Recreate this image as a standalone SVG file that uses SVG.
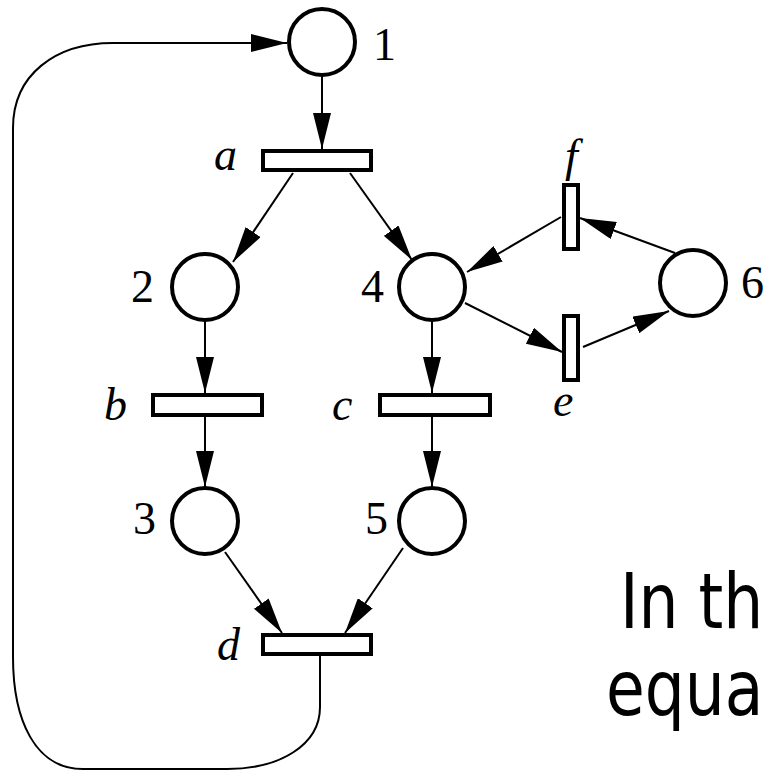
<svg xmlns="http://www.w3.org/2000/svg" width="764" height="772" viewBox="0 0 764 772">
<style>
.place{fill:#fff;stroke:#000;stroke-width:4}
.trans{fill:#fff;stroke:#000;stroke-width:4}
.arc{fill:none;stroke:#000;stroke-width:2}
.num{font-family:"Liberation Serif","Times New Roman",serif;font-size:46px;fill:#000}
.lab{font-family:"Liberation Serif","Times New Roman",serif;font-size:46px;font-style:italic;fill:#000}
.big{font-family:"DejaVu Sans",Verdana,sans-serif;font-size:76px;fill:#000}
</style>
<defs>
<marker id="ah" markerUnits="userSpaceOnUse" markerWidth="36" markerHeight="18" refX="36" refY="9" orient="auto" viewBox="0 0 36 18">
<path d="M0,0 L36,9 L0,18 Z" fill="#000"/>
</marker>
</defs>
<rect width="764" height="772" fill="#fff"/>
<g id="connectors">
<path class="arc" d="M322,76 L322,149" marker-end="url(#ah)"/>
<path class="arc" d="M293,173 L233,262" marker-end="url(#ah)"/>
<path class="arc" d="M350,173 L412,260" marker-end="url(#ah)"/>
<path class="arc" d="M205,320 L205,393" marker-end="url(#ah)"/>
<path class="arc" d="M432,320 L432,393" marker-end="url(#ah)"/>
<path class="arc" d="M205,417 L205,487" marker-end="url(#ah)"/>
<path class="arc" d="M432,417 L432,487" marker-end="url(#ah)"/>
<path class="arc" d="M225,552 L282,633" marker-end="url(#ah)"/>
<path class="arc" d="M403,548 L345,633" marker-end="url(#ah)"/>
<path class="arc" d="M465,303 L562,352" marker-end="url(#ah)"/>
<path class="arc" d="M583,347 L669,311" marker-end="url(#ah)"/>
<path class="arc" d="M675,253 L580,218" marker-end="url(#ah)"/>
<path class="arc" d="M561,217 L467,272" marker-end="url(#ah)"/>
<path class="arc" d="M320,656 L320,707 C320,745 280,769 227,769 L83,769 C35,769 13,720 13,657 L13,128 C13,75 55,43 113,43 L287,43" marker-end="url(#ah)"/>
</g>
<g id="p1"><circle class="place" cx="322" cy="42" r="33"/><text class="num" x="373" y="60">1</text></g>
<g id="p2"><circle class="place" cx="205" cy="287" r="33"/><text class="num" x="131" y="302">2</text></g>
<g id="p3"><circle class="place" cx="205" cy="521" r="33"/><text class="num" x="133" y="534">3</text></g>
<g id="p4"><circle class="place" cx="432" cy="287" r="33"/><text class="num" x="361" y="302">4</text></g>
<g id="p5"><circle class="place" cx="432" cy="521" r="33"/><text class="num" x="365" y="534">5</text></g>
<g id="p6"><circle class="place" cx="693" cy="283" r="33"/><text class="num" x="741" y="298">6</text></g>
<g id="ta"><rect class="trans" x="263" y="151" width="108" height="19"/><text class="lab" x="214" y="170">a</text></g>
<g id="tb"><rect class="trans" x="153" y="395" width="109" height="20"/><text class="lab" x="104" y="420">b</text></g>
<g id="tc"><rect class="trans" x="380" y="395" width="110" height="20"/><text class="lab" x="332" y="420">c</text></g>
<g id="td"><rect class="trans" x="263" y="635" width="108" height="19"/><text class="lab" x="217" y="660">d</text></g>
<g id="te"><rect class="trans" x="564" y="316" width="14" height="64"/><text class="lab" x="553" y="416">e</text></g>
<g id="tf"><rect class="trans" x="564" y="185" width="14" height="64"/><text class="lab" x="565" y="171">f</text></g>
<g id="caption">
<text class="big" transform="translate(620,628) scale(0.83,1)" x="0" y="0">In th</text>
<text class="big" transform="translate(606,715) scale(0.83,1)" x="0" y="0">equa</text>
</g>
</svg>
